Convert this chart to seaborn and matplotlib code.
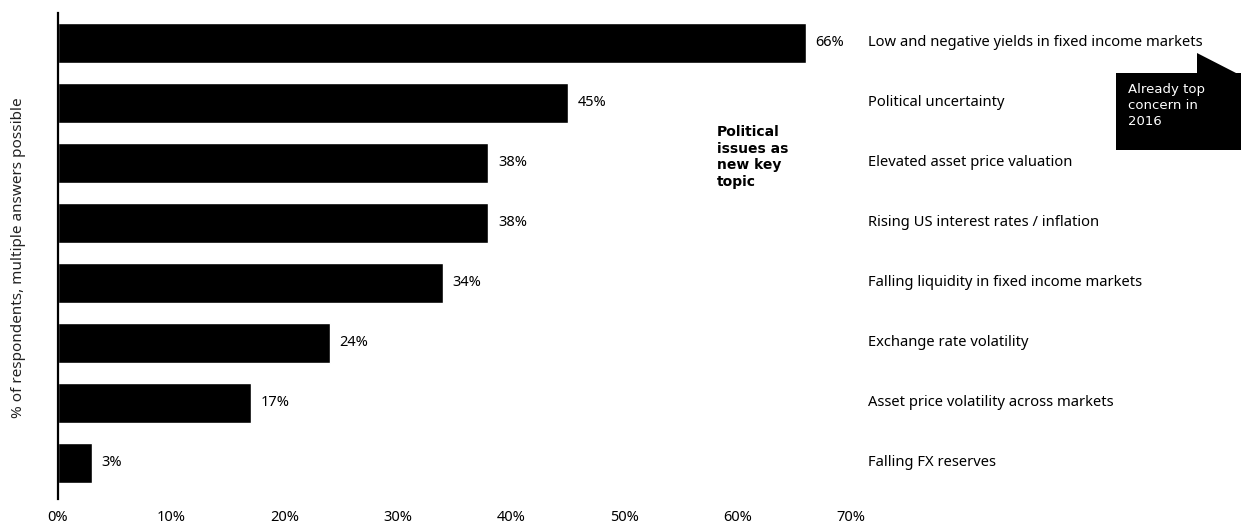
import matplotlib
matplotlib.use("Agg")
import matplotlib.pyplot as plt
from matplotlib.patches import Polygon
from matplotlib.transforms import blended_transform_factory
import seaborn as sns
import pandas as pd

# Survey results: top market concerns
concerns = [
    "Low and negative yields in fixed income markets",
    "Political uncertainty",
    "Elevated asset price valuation",
    "Rising US interest rates / inflation",
    "Falling liquidity in fixed income markets",
    "Exchange rate volatility",
    "Asset price volatility across markets",
    "Falling FX reserves",
]
shares = [66, 45, 38, 38, 34, 24, 17, 3]
x_ticks = [0, 10, 20, 30, 40, 50, 60, 70]
x_tick_labels = [f"{t}%" for t in x_ticks]

y_title = "% of respondents, multiple answers possible"
highlight_note = "Political\nissues as\nnew key\ntopic"
callout_note = "Already top\nconcern in\n2016"

sns.set_theme(style="white")
plt.rcParams["font.family"] = ["Noto Sans", "DejaVu Sans"]

W, H = 1241, 525
fig = plt.figure(figsize=(W / 100, H / 100), dpi=100)
ax = fig.add_axes([58 / W, 1 - 499 / H, 793 / W, 486 / H])

df = pd.DataFrame({"concern": concerns, "share": shares})
sns.barplot(data=df, x="share", y="concern", color="black", saturation=1,
            width=0.67, orient="h", ax=ax)

ax.set_xlim(0, 70)
ax.set_ylim(7.6, -0.5)
ax.set_xticks(x_ticks)
ax.set_xticklabels(x_tick_labels, fontsize=10.5)
ax.tick_params(axis="x", length=0, pad=8, colors="black")
ax.tick_params(axis="y", left=False, labelleft=False)
ax.set_xlabel("")
ax.set_ylabel("")

for side in ["top", "right", "bottom"]:
    ax.spines[side].set_visible(False)
ax.spines["left"].set_color("black")
ax.spines["left"].set_linewidth(1.6)

# vertical axis title
fig.text(19 / W, 1 - 258 / H, y_title, rotation=90, ha="center", va="center",
         fontsize=11, color="#222222")

# value labels at the bar ends
for i, v in enumerate(shares):
    ax.text(v + 0.85, i, f"{v}%", va="center", ha="left", fontsize=10.5, color="black")

# category names in a column to the right of the plot
trans = blended_transform_factory(fig.transFigure, ax.transData)
for i, name in enumerate(concerns):
    ax.text(868 / W, i, name, transform=trans, va="center", ha="left",
            fontsize=10.6, color="black", clip_on=False)

# bold side note
fig.text(717 / W, 1 - 125 / H, highlight_note, ha="left", va="top",
         fontsize=10, fontweight="bold", family=["DejaVu Sans"],
         linespacing=1.25, color="black")

# speech-bubble callout at the top right
bubble = [(1116, 73), (1197, 73), (1197, 53), (1236, 73), (1241, 73),
          (1241, 150), (1116, 150)]
bubble = [(px / W, 1 - py / H) for px, py in bubble]
fig.patches.append(Polygon(bubble, closed=True, transform=fig.transFigure,
                           facecolor="black", edgecolor="none"))
fig.text(1128 / W, 1 - 83 / H, callout_note, ha="left", va="top",
         fontsize=9.5, color="white", family=["DejaVu Sans"], linespacing=1.3)

fig.savefig("out.png", dpi=100, facecolor="white")
